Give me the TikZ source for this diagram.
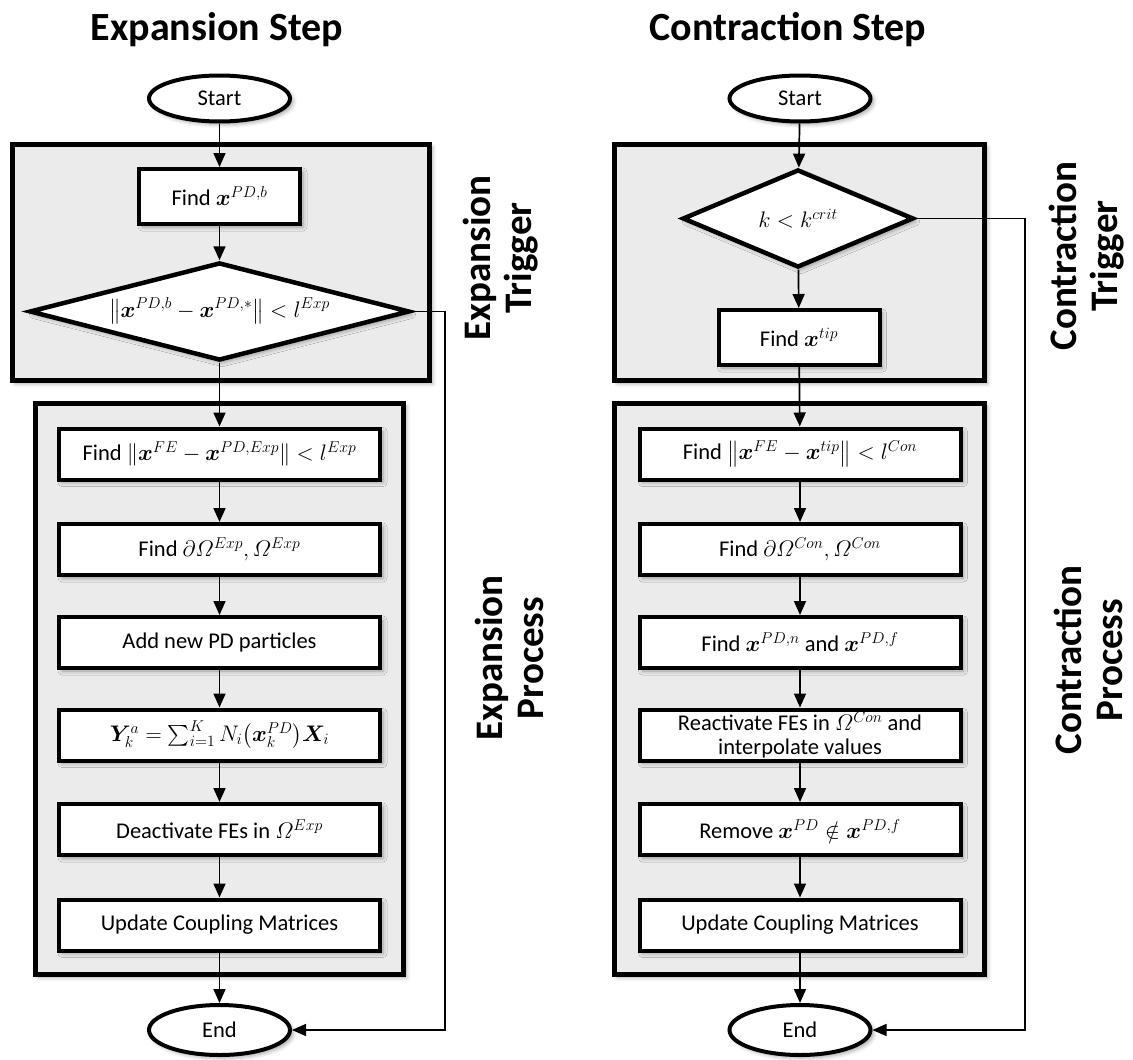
\RequirePackage{fix-cm}
\documentclass[tikz,border=0pt]{standalone}
\usepackage{amsmath,bm}
\usepackage[no-math]{fontspec}
\setmainfont{Carlito}
\usetikzlibrary{shapes.geometric,arrows.meta,shadows.blur}

\definecolor{panelgray}{HTML}{EBEBEB}

\tikzset{
  softshadow/.style={blur shadow={shadow xshift=3pt, shadow yshift=-3pt,
      shadow blur radius=4pt, shadow opacity=35}},
  panel/.style={draw, line width=5pt, fill=panelgray, softshadow, inner sep=0pt},
  stepbox/.style={draw, line width=4pt, fill=white, softshadow,
      minimum width=321pt, minimum height=51pt, inner sep=1pt, align=center,
      font=\fontsize{22.5}{26}\selectfont},
  terminal/.style={ellipse, draw, line width=4pt, fill=white, softshadow,
      minimum width=141pt, minimum height=46pt, inner sep=0pt,
      font=\fontsize{22.5}{26}\selectfont},
  decision/.style={diamond, draw, line width=4.5pt, fill=white, softshadow,
      inner sep=0pt, font=\fontsize{22.5}{26}\selectfont},
  flow/.style={line width=1.7pt, -{Triangle[length=14pt,width=12pt]}},
  heading/.style={font=\fontsize{40}{42}\selectfont\bfseries},
  sidelabel/.style={rotate=90, align=center, font=\fontsize{39}{41}\selectfont\bfseries},
}

\begin{document}
\begin{tikzpicture}[x=1pt, y=-1pt]
\path[use as bounding box] (0,0) rectangle (1133,1060);

% ---------------- Expansion step ----------------
\node[heading] (titleL) at (217,30) {Expansion Step};

\node[panel, minimum width=417pt, minimum height=236pt] (trigL) at (221,262.5) {};
\node[panel, minimum width=368pt, minimum height=571pt] (procL) at (219.5,689) {};

\node[terminal] (startL) at (219.5,98.5) {Start};
\node[stepbox, minimum width=161pt, minimum height=55pt] (findbL) at (219.5,196.5)
  {Find $\boldsymbol{x}^{PD,b}$};
\node[decision, aspect=3.9, minimum width=380pt, minimum height=98pt] (diaL) at (219.5,311.5)
  {$\bigl\|\boldsymbol{x}^{PD,b}-\boldsymbol{x}^{PD,*}\bigr\|<l^{Exp}$};

\node[stepbox] (L1) at (219.5,454)
  {Find $\|\boldsymbol{x}^{FE}-\boldsymbol{x}^{PD,Exp}\|<l^{Exp}$};
\node[stepbox] (L2) at (219.5,549.5)
  {Find $\partial\varOmega^{Exp}, \varOmega^{Exp}$};
\node[stepbox] (L3) at (219.5,642.5) {Add new PD particles};
\node[stepbox] (L4) at (219.5,735)
  {$\boldsymbol{Y}_k^a=\textstyle\sum_{i=1}^{K}N_i\bigl(\boldsymbol{x}_k^{PD}\bigr)\boldsymbol{X}_i$};
\node[stepbox] (L5) at (219.5,829.5) {Deactivate FEs in $\varOmega^{Exp}$};
\node[stepbox] (L6) at (219.5,925) {Update Coupling Matrices};

\node[terminal, minimum height=50pt] (endL) at (219.5,1030) {End};

\node[sidelabel] (labTrigL) at (501,258) {Expansion\\Trigger};
\node[sidelabel] (labProcL) at (509,658) {Expansion\\Process};

\coordinate (cornL) at (445,311.5);

\draw[flow] (startL) -- (findbL);
\draw[flow] (findbL) -- (diaL);
\draw[flow] (diaL) -- (L1);
\draw[flow] (L1) -- (L2);
\draw[flow] (L2) -- (L3);
\draw[flow] (L3) -- (L4);
\draw[flow] (L4) -- (L5);
\draw[flow] (L5) -- (L6);
\draw[flow] (L6) -- (endL);
\draw[flow] (diaL.east) -- (cornL) |- (endL.east);

% ---------------- Contraction step ----------------
\node[heading] (titleR) at (788,30) {Contraction Step};

\node[panel, minimum width=370pt, minimum height=236pt] (trigR) at (799.5,262.5) {};
\node[panel, minimum width=370pt, minimum height=571pt] (procR) at (799.5,689) {};

\node[terminal] (startR) at (800,98.5) {Start};
\node[decision, aspect=2.36, minimum width=231pt, minimum height=98pt] (diaR) at (798,218.5)
  {$k<k^{crit}$};
\node[stepbox, minimum width=161pt, minimum height=55pt] (tipR) at (799,337.5)
  {Find $\boldsymbol{x}^{tip}$};

\node[stepbox] (R1) at (800,454)
  {Find $\bigl\|\boldsymbol{x}^{FE}-\boldsymbol{x}^{tip}\bigr\|<l^{Con}$};
\node[stepbox] (R2) at (800,549.5)
  {Find $\partial\varOmega^{Con}, \varOmega^{Con}$};
\node[stepbox] (R3) at (800,642.5)
  {Find $\boldsymbol{x}^{PD,n}$ and $\boldsymbol{x}^{PD,f}$};
\node[stepbox, inner sep=0pt] (R4) at (800,735)
  {Reactivate FEs in $\varOmega^{Con}$ and\\[-2pt]interpolate values};
\node[stepbox] (R5) at (800,829.5)
  {Remove $\boldsymbol{x}^{PD}\notin\boldsymbol{x}^{PD,f}$};
\node[stepbox] (R6) at (800,925) {Update Coupling Matrices};

\node[terminal, minimum height=50pt] (endR) at (800,1030) {End};

\node[sidelabel] (labTrigR) at (1087,256) {Contraction\\Trigger};
\node[sidelabel] (labProcR) at (1088,660) {Contraction\\Process};

\coordinate (cornR) at (1025,218.5);

\draw[flow] (startR) -- (diaR);
\draw[flow] (diaR) -- (tipR);
\draw[flow] (tipR) -- (R1);
\draw[flow] (R1) -- (R2);
\draw[flow] (R2) -- (R3);
\draw[flow] (R3) -- (R4);
\draw[flow] (R4) -- (R5);
\draw[flow] (R5) -- (R6);
\draw[flow] (R6) -- (endR);
\draw[flow] (diaR.east) -- (cornR) |- (endR.east);
\end{tikzpicture}
\end{document}
